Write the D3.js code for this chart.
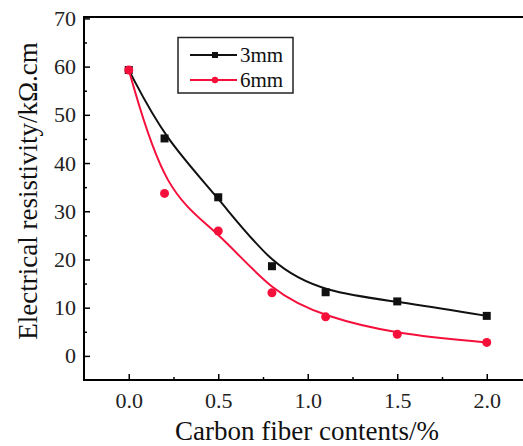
<!DOCTYPE html>
<html><head><meta charset="utf-8">
<script src="https://cdn.jsdelivr.net/npm/d3@7"></script>
<style>body{margin:0;background:#fff}svg{display:block}</style>
</head><body>
<script>
const contents = [0.0, 0.2, 0.5, 0.8, 1.1, 1.5, 2.0];
const res3mm = [59.3, 45.1, 32.9, 18.6, 13.2, 11.3, 8.3];
const res6mm = [59.3, 33.7, 25.9, 13.1, 8.1, 4.5, 2.8];
const seriesNames = ["3mm", "6mm"];
const xTicks = [0.0, 0.5, 1.0, 1.5, 2.0];
const yTicks = [0, 10, 20, 30, 40, 50, 60, 70];

const W = 523, H = 446;
const svg = d3.select("body").append("svg").attr("width", W).attr("height", H);
const L = 84, T = 17, B = 380;
const x = d3.scaleLinear().domain([-0.25, 2.25]).range([L, L + 2.5 * 179]);
const y = d3.scaleLinear().domain([-5, 70]).range([B, 18.4]);
const font = "'Liberation Serif','Times New Roman',serif";

// frame
svg.append("path").attr("d", `M${x(2.25)},${T}H${L}V${B}H${x(2.25)}`)
  .attr("fill", "none").attr("stroke", "#000").attr("stroke-width", 2);

// x axis ticks (inward)
const xAxis = d3.axisBottom(x).tickValues(xTicks).tickFormat(d3.format(".1f")).tickSize(-6).tickPadding(12);
const gx = svg.append("g").attr("transform", `translate(0,${B})`).call(xAxis);
gx.select(".domain").remove();
gx.selectAll(".tick line").attr("stroke-width", 1.5);
gx.selectAll("text").attr("font-family", font).attr("font-size", 22).attr("fill", "#222");
const xMinor = d3.axisBottom(x).tickValues([0.25, 0.75, 1.25, 1.75]).tickSize(-3).tickFormat("");
const gxm = svg.append("g").attr("transform", `translate(0,${B})`).call(xMinor);
gxm.select(".domain").remove();
gxm.selectAll(".tick line").attr("stroke-width", 1.5);

// y axis
const yAxis = d3.axisLeft(y).tickValues(yTicks).tickSize(-6).tickPadding(8);
const gy = svg.append("g").attr("transform", `translate(${L},0)`).call(yAxis);
gy.select(".domain").remove();
gy.selectAll(".tick line").attr("stroke-width", 1.5);
gy.selectAll("text").attr("font-family", font).attr("font-size", 22).attr("fill", "#222");
const yMinor = d3.axisLeft(y).tickValues([5, 15, 25, 35, 45, 55, 65]).tickSize(-3).tickFormat("");
const gym = svg.append("g").attr("transform", `translate(${L},0)`).call(yMinor);
gym.select(".domain").remove();
gym.selectAll(".tick line").attr("stroke-width", 1.5);

// titles
svg.append("text").attr("x", 307).attr("y", 440)
  .attr("text-anchor", "middle").attr("font-family", font).attr("font-size", 27).attr("fill", "#111")
  .text("Carbon fiber contents/%");
svg.append("text").attr("transform", `translate(37,${(35 + 347) / 2}) rotate(-90)`)
  .attr("text-anchor", "middle").attr("font-family", font).attr("font-size", 27).attr("fill", "#111")
  .text("Electrical resistivity/kΩ.cm");

const colors = ["#111111", "#f5103c"];
const data = [res3mm, res6mm];
const line = d3.line().x(d => x(d[0])).y(d => y(d[1])).curve(d3.curveBasis);
data.forEach((vals, i) => {
  const pts = contents.map((c, j) => [c, vals[j]]);
  svg.append("path").datum(pts).attr("d", line).attr("fill", "none")
    .attr("stroke", colors[i]).attr("stroke-width", 2);
});
// markers
svg.selectAll(".sq").data(contents.map((c, j) => [c, res3mm[j]])).enter().append("rect")
  .attr("x", d => x(d[0]) - 4).attr("y", d => y(d[1]) - 4).attr("width", 8).attr("height", 8)
  .attr("fill", colors[0]);
svg.selectAll(".ci").data(contents.map((c, j) => [c, res6mm[j]])).enter().append("circle")
  .attr("cx", d => x(d[0])).attr("cy", d => y(d[1])).attr("r", 4.5)
  .attr("fill", colors[1]);

// legend
const lg = svg.append("g");
lg.append("rect").attr("x", 178).attr("y", 37.5).attr("width", 115).attr("height", 55.5)
  .attr("fill", "#fff").attr("stroke", "#222").attr("stroke-width", 1.5);
seriesNames.forEach((n, i) => {
  const yy = 55 + i * 25;
  lg.append("line").attr("x1", 190).attr("x2", 237).attr("y1", yy).attr("y2", yy)
    .attr("stroke", colors[i]).attr("stroke-width", 2);
  if (i === 0) lg.append("rect").attr("x", 212).attr("y", yy - 3).attr("width", 6).attr("height", 6).attr("fill", colors[i]);
  else lg.append("circle").attr("cx", 215).attr("cy", yy).attr("r", 3.2).attr("fill", colors[i]);
  lg.append("text").attr("x", 240).attr("y", yy + 7).attr("font-family", font).attr("font-size", 21)
    .attr("fill", "#111").text(n);
});
</script>
</body></html>
